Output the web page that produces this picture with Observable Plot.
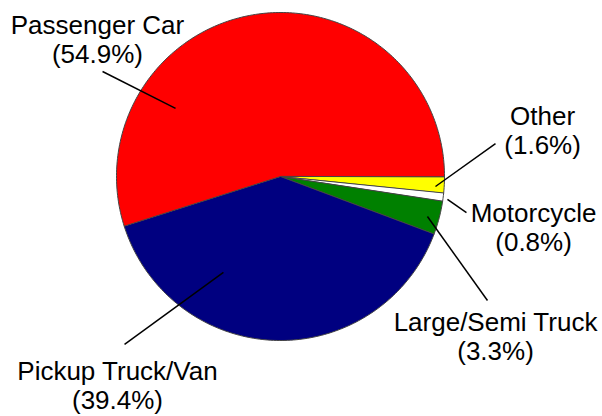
<!DOCTYPE html>
<html><head><meta charset="utf-8">
<script src="https://cdn.jsdelivr.net/npm/d3@7"></script>
<script src="https://cdn.jsdelivr.net/npm/@observablehq/plot@0.6"></script>
<style>body{margin:0;background:#fff}</style>
</head><body><div id="chart"></div>
<script>
// Data (clockwise from 3 o'clock)
const categories = ["Other", "Motorcycle", "Large/Semi Truck", "Pickup Truck/Van", "Passenger Car"];
const shares = [1.6, 0.8, 3.3, 39.4, 54.9];
const colors = ["#ffff00", "#ffffff", "#008000", "#000080", "#ff0000"];

// Label layout in pie units (radius = 1, centre = 0,0, y up)
const labelPos = [[1.598, 0.280], [1.543, -0.311], [1.311, -0.976], [-0.994, -1.274], [-1.116, 0.835]];
const leaderOuter = [[1.311, 0.201], [1.134, -0.220], [1.262, -0.756], [-0.951, -1.024], [-1.085, 0.640]];
const leaderInner = [[0.945, -0.061], [1.018, -0.140], [0.896, -0.244], [-0.348, -0.585], [-0.640, 0.415]];

const arcs = d3.pie().sort(null).startAngle(Math.PI / 2).endAngle(Math.PI / 2 + 2 * Math.PI)(shares);
const pts = [];
arcs.forEach((a, i) => {
  const name = categories[i];
  pts.push({name, x: 0, y: 0});
  const n = Math.max(2, Math.ceil((a.endAngle - a.startAngle) * 180 / Math.PI));
  for (let k = 0; k <= n; k++) {
    const t = a.startAngle + (a.endAngle - a.startAngle) * k / n;
    pts.push({name, x: Math.sin(t), y: Math.cos(t)});
  }
});

const labels = categories.map((c, i) => ({
  text: `${c}\n(${shares[i].toFixed(1)}%)`, x: labelPos[i][0], y: labelPos[i][1]
}));
const leaders = categories.map((c, i) => ({
  x1: leaderOuter[i][0], y1: leaderOuter[i][1], x2: leaderInner[i][0], y2: leaderInner[i][1]
}));

const cx = 280, cy = 176, r = 164;
const chart = Plot.plot({
  width: 602, height: 416,
  marginTop: 0, marginRight: 0, marginBottom: 0, marginLeft: 0,
  style: {fontFamily: "'Liberation Sans', Arial, sans-serif", background: "#fff"},
  x: {domain: [-1, 1], range: [cx - r, cx + r], axis: null},
  y: {domain: [-1, 1], range: [cy + r, cy - r], axis: null},
  color: {domain: categories, range: colors},
  marks: [
    Plot.line(pts, {x: "x", y: "y", z: "name", fill: "name", stroke: "#444", strokeWidth: 1, curve: "linear-closed"}),
    Plot.link(leaders, {x1: "x1", y1: "y1", x2: "x2", y2: "y2", stroke: "black", strokeWidth: 1.5}),
    Plot.text(labels, {x: "x", y: "y", text: "text", fontSize: 26, lineHeight: 1.115, textAnchor: "middle", fill: "black"})
  ]
});
document.getElementById("chart").appendChild(chart);
</script>
</body></html>
